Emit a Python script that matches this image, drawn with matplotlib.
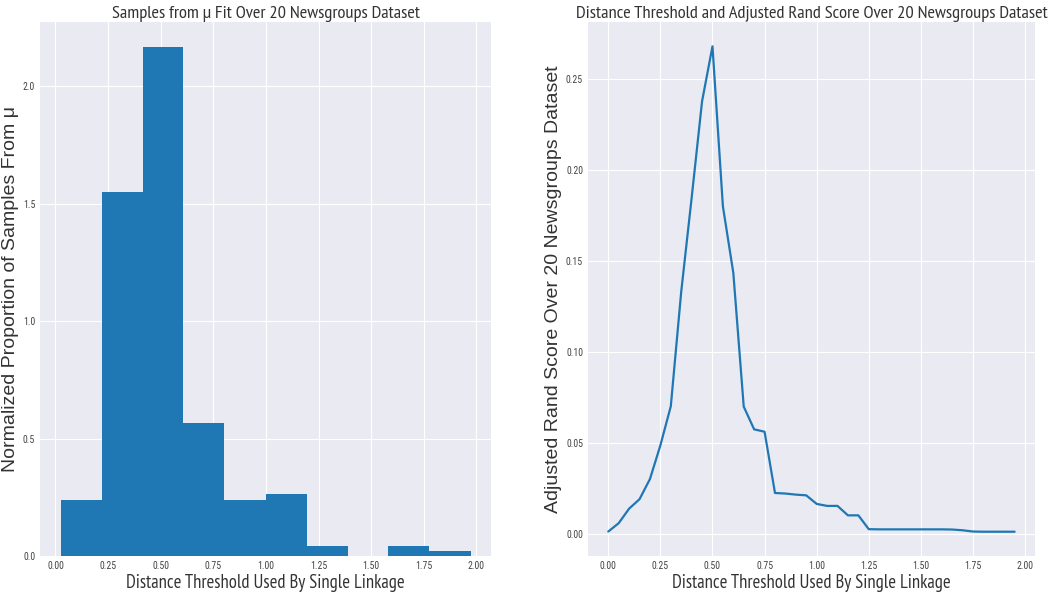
#!/usr/bin/env python3

import matplotlib
matplotlib.use("Agg")
import matplotlib.pyplot as plt
import numpy as np

# histogram of samples from mu (density normalised)
bin_edges = [0.024, 0.219, 0.414, 0.608, 0.803, 0.998, 1.193, 1.388, 1.582, 1.777, 1.972]
bin_heights = [0.239, 1.548, 2.165, 0.567, 0.239, 0.264, 0.042, 0.0, 0.042, 0.023]

# distance threshold vs adjusted rand score
thresholds = [0.00, 0.05, 0.10, 0.15, 0.20, 0.25, 0.30, 0.35, 0.40, 0.45,
              0.50, 0.55, 0.60, 0.65, 0.70, 0.75, 0.80, 0.85, 0.90, 0.95,
              1.00, 1.05, 1.10, 1.15, 1.20, 1.25, 1.30, 1.35, 1.40, 1.45,
              1.50, 1.55, 1.60, 1.65, 1.70, 1.75, 1.80, 1.85, 1.90, 1.95]
rand_scores = [0.0011, 0.0057, 0.0137, 0.0189, 0.0300, 0.0485, 0.0700, 0.1330, 0.1846, 0.2377,
               0.2680, 0.1800, 0.1434, 0.0698, 0.0573, 0.0560, 0.0223, 0.0220, 0.0214, 0.0210,
               0.0163, 0.0152, 0.0152, 0.0100, 0.0100, 0.0024, 0.0023, 0.0023, 0.0023, 0.0023,
               0.0023, 0.0023, 0.0023, 0.0022, 0.0018, 0.0011, 0.0010, 0.0010, 0.0010, 0.0010]

narrow = ["PT Sans Narrow", "DejaVu Sans"]
tick_font = ["Roboto Condensed", "DejaVu Sans"]
wide = ["Liberation Sans", "DejaVu Sans"]


def style_axis(ax):
    for lbl in ax.get_xticklabels() + ax.get_yticklabels():
        lbl.set_family(tick_font)
        lbl.set_fontsize(7)
        lbl.set_color("#444444")


def main():
    plt.style.use("seaborn-v0_8-darkgrid")

    fig = plt.figure(figsize=(10.64, 5.97), dpi=100)
    ax1 = fig.add_axes([0.0376, 0.0687, 0.4239, 0.8944])
    ax2 = fig.add_axes([0.5526, 0.0687, 0.4201, 0.8944])

    edges = np.array(bin_edges)
    ax1.bar(edges[:-1], bin_heights, width=np.diff(edges), align="edge",
            color="#1f77b4", linewidth=0)
    ax1.set_title("Samples from μ Fit Over 20 Newsgroups Dataset",
                  family=narrow, fontsize=13.3, color="#333333", pad=3)
    ax1.set_xlabel("Distance Threshold Used By Single Linkage",
                   family=narrow, fontsize=13.4, color="#333333", labelpad=2)
    ax1.set_ylabel("Normalized Proportion of Samples From μ",
                   family=wide, fontsize=14, color="#333333", labelpad=3)
    ax1.set_xticks(np.arange(0, 2.01, 0.25))
    ax1.set_yticks([0.0, 0.5, 1.0, 1.5, 2.0])
    style_axis(ax1)

    ax2.plot(thresholds, rand_scores, color="#1f77b4", linewidth=1.6)
    ax2.set_title("Distance Threshold and Adjusted Rand Score Over 20 Newsgroups Dataset",
                  family=narrow, fontsize=13.3, color="#333333", pad=3)
    ax2.set_xlabel("Distance Threshold Used By Single Linkage",
                   family=narrow, fontsize=13.4, color="#333333", labelpad=2)
    ax2.set_ylabel("Adjusted Rand Score Over 20 Newsgroups Dataset",
                   family=wide, fontsize=14, color="#333333", labelpad=3)
    ax2.set_xticks(np.arange(0, 2.01, 0.25))
    ax2.set_yticks([0.0, 0.05, 0.10, 0.15, 0.20, 0.25])
    style_axis(ax2)

    fig.savefig("out.png", dpi=100)


if __name__ == "__main__":
    main()
